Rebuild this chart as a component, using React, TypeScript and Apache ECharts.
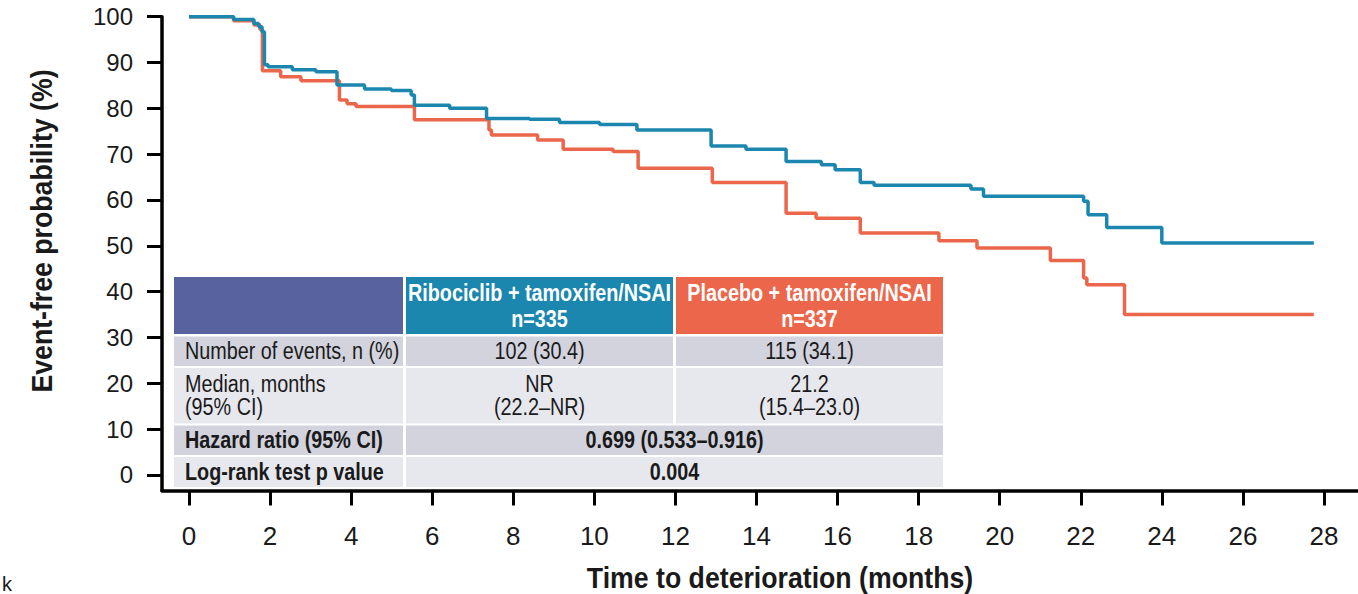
import React, { useEffect, useRef } from "react";
import * as echarts from "echarts";

const FONT = "'Liberation Sans', Arial, sans-serif";

// Tick labels
const xTicks = [0, 2, 4, 6, 8, 10, 12, 14, 16, 18, 20, 22, 24, 26, 28];
const yTicks = [0, 10, 20, 30, 40, 50, 60, 70, 80, 90, 100];

// Ribociclib + tamoxifen/NSAI (Kaplan-Meier steps)
const ribTimes = [0, 1.1, 1.6, 1.72, 1.8, 1.86, 1.95, 2.55, 3.13, 3.65, 4.33, 4.99, 5.48, 5.56, 6.43, 7.34, 8.4, 9.14, 10.13, 11.05, 12.88, 13.74, 14.73, 15.6, 15.94, 16.56, 16.9, 19.29, 19.6, 22.07, 22.18, 22.64, 24.0, 27.75];
const ribValues = [100, 99.4, 98.5, 97.8, 96.7, 89.5, 89.1, 88.4, 88.0, 85.1, 84.2, 83.9, 82.9, 80.7, 80.0, 77.8, 77.6, 76.9, 76.5, 75.3, 71.8, 71.1, 68.4, 67.7, 66.6, 63.8, 63.2, 62.4, 60.8, 59.7, 56.8, 54.0, 50.6, 50.6];

// Placebo + tamoxifen/NSAI
const plaTimes = [0, 1.1, 1.6, 1.75, 1.81, 2.26, 2.76, 3.71, 3.9, 4.12, 5.56, 7.4, 7.46, 8.6, 9.23, 10.46, 11.08, 12.91, 14.73, 15.47, 16.56, 18.5, 19.44, 21.25, 22.07, 22.15, 23.08, 27.75];
const plaValues = [100, 99.1, 98.2, 97.2, 88.2, 86.9, 86.0, 81.8, 81.0, 80.4, 77.5, 75.3, 74.2, 73.1, 71.1, 70.6, 66.9, 63.8, 57.1, 56.0, 52.8, 51.1, 49.5, 46.8, 43.0, 41.5, 35.0, 35.0];

// Table contents
const armHeaders = ["Ribociclib + tamoxifen/NSAI\nn=335", "Placebo + tamoxifen/NSAI\nn=337"];
const rowLabels = ["Number of events, n (%)", "Median, months\n(95% CI)", "Hazard ratio (95% CI)", "Log-rank test p value"];
const ribStats = ["102 (30.4)", "NR\n(22.2\u2013NR)"];
const plaStats = ["115 (34.1)", "21.2\n(15.4\u201323.0)"];
const combinedStats = ["0.699 (0.533\u20130.916)", "0.004"];

const TEAL = "#1B86AE";
const ORANGE = "#EC664B";
const SLATE = "#57629E";
const GRAY = "#D2D3DD";
const LIGHT = "#E7E7EE";
const INK = "#1a1a1a";
const NARROW = 0.86;

function buildTable() {
  const colX = [174, 406, 676];
  const colW = [229, 267, 267];
  const rowY = [277, 336.5, 368, 425.5, 457];
  const rowH = [57, 29.5, 55.5, 29.5, 30];
  const els: any[] = [];
  const rect = (x: number, y: number, w: number, h: number, fill: string) => ({
    type: "rect", shape: { x, y, width: w, height: h }, style: { fill }, silent: true,
  });
  const text = (t: string, x: number, y: number, opts: any = {}) => ({
    type: "text", x, y, scaleX: NARROW, silent: true,
    style: {
      text: t, fill: opts.fill || INK, align: opts.align || "center", verticalAlign: "middle",
      font: `${opts.bold ? "bold " : ""}23px ${FONT}`, lineHeight: opts.lineHeight || 23,
    },
  });
  // header
  els.push(rect(colX[0], rowY[0], colW[0], rowH[0], SLATE));
  els.push(rect(colX[1], rowY[0], colW[1], rowH[0], TEAL));
  els.push(rect(colX[2], rowY[0], colW[2], rowH[0], ORANGE));
  els.push(text(armHeaders[0], colX[1] + colW[1] / 2, rowY[0] + rowH[0] / 2 + 1, { fill: "#fff", bold: true, lineHeight: 26 }));
  els.push(text(armHeaders[1], colX[2] + colW[2] / 2, rowY[0] + rowH[0] / 2 + 1, { fill: "#fff", bold: true, lineHeight: 26 }));
  for (let r = 0; r < 4; r++) {
    const fill = r % 2 === 0 ? GRAY : LIGHT;
    const y = rowY[r + 1];
    const h = rowH[r + 1];
    const bold = r >= 2;
    els.push(rect(colX[0], y, colW[0], h, fill));
    els.push(text(rowLabels[r], 185, y + h / 2, { align: "left", bold }));
    if (r < 2) {
      els.push(rect(colX[1], y, colW[1], h, fill));
      els.push(rect(colX[2], y, colW[2], h, fill));
      els.push(text(ribStats[r], colX[1] + colW[1] / 2, y + h / 2));
      els.push(text(plaStats[r], colX[2] + colW[2] / 2, y + h / 2));
    } else {
      const w = colX[2] + colW[2] - colX[1];
      els.push(rect(colX[1], y, w, h, fill));
      els.push(text(combinedStats[r - 2], colX[1] + w / 2, y + h / 2, { bold: true }));
    }
  }
  return els;
}

export default function App() {
  const ref = useRef<HTMLDivElement>(null);
  useEffect(() => {
    document.body.style.margin = "0";
    const chart = echarts.init(ref.current!, null, { renderer: "svg" });
    const ribData = ribTimes.map((t, i) => [t, ribValues[i]]);
    const plaData = plaTimes.map((t, i) => [t, plaValues[i]]);
    chart.setOption({
      animation: false,
      backgroundColor: "#ffffff",
      grid: { left: 162, right: 0, top: 16.7, bottom: 103.5, containLabel: false },
      xAxis: {
        type: "value", min: -0.667, max: 28.84,
        axisLine: { show: true, onZero: false, lineStyle: { color: "#000", width: 3.5 } },
        axisTick: { show: true, length: 15, lineStyle: { color: "#000", width: 3 }, customValues: xTicks },
        axisLabel: { show: true, margin: 32, color: INK, fontSize: 26, fontFamily: FONT, customValues: xTicks },
        splitLine: { show: false },
      },
      yAxis: {
        type: "value", min: -3.4, max: 100,
        axisLine: { show: true, onZero: false, lineStyle: { color: "#000", width: 3.5 } },
        axisTick: { show: true, length: 15, lineStyle: { color: "#000", width: 3 }, customValues: yTicks },
        axisLabel: { show: true, margin: 29, color: INK, fontSize: 24, fontFamily: FONT, customValues: yTicks },
        splitLine: { show: false },
      },
      series: [
        {
          name: "Ribociclib + tamoxifen/NSAI", type: "line", step: "end", showSymbol: false,
          data: ribData, lineStyle: { color: TEAL, width: 3.5 }, itemStyle: { color: TEAL }, z: 3,
        },
        {
          name: "Placebo + tamoxifen/NSAI", type: "line", step: "end", showSymbol: false,
          data: plaData, lineStyle: { color: ORANGE, width: 3.5 }, itemStyle: { color: ORANGE }, z: 2,
        },
      ],
      graphic: [
        ...buildTable(),
        {
          type: "text", x: 42, y: 231, rotation: Math.PI / 2, scaleX: 0.92, silent: true,
          style: { text: "Event-free probability (%)", fill: INK, align: "center", verticalAlign: "middle", font: `bold 29px ${FONT}` },
        },
        {
          type: "text", x: 780, y: 578, scaleX: 0.92, silent: true,
          style: { text: "Time to deterioration (months)", fill: INK, align: "center", verticalAlign: "middle", font: `bold 29px ${FONT}` },
        },
        {
          type: "text", x: 2, y: 584, silent: true,
          style: { text: "k", fill: INK, align: "left", verticalAlign: "middle", font: `20px ${FONT}` },
        },
      ],
    });
    return () => chart.dispose();
  }, []);
  return <div ref={ref} style={{ width: 1358, height: 594 }} />;
}
